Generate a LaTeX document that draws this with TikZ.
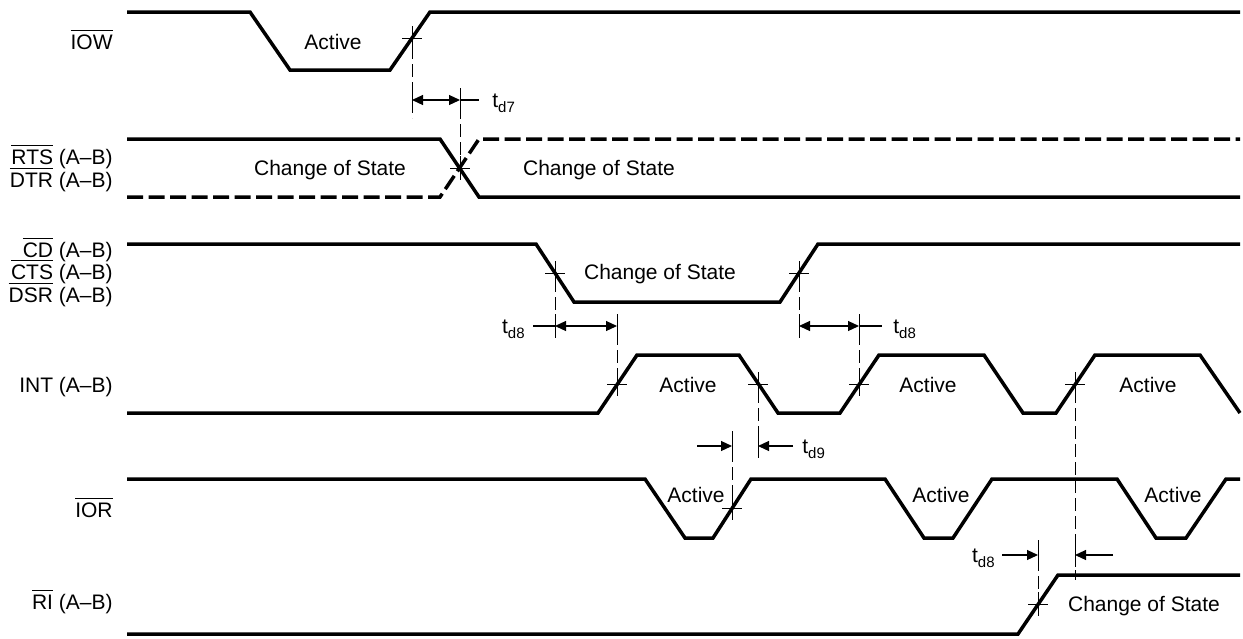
\documentclass[tikz,border=0pt]{standalone}
\usepackage{fontspec}
\setmainfont{Liberation Sans}
\usetikzlibrary{arrows.meta}
\newcommand\ovl[1]{\leavevmode\vbox{\hrule height 0.5pt\kern 2pt\hbox{#1}}}
\newcommand\tsub[1]{t\raisebox{-2.8pt}{\fontsize{7.5}{8}\selectfont #1}}
\begin{document}
\begin{tikzpicture}[x=0.5pt,y=-0.5pt,
  sig/.style={line width=1.75pt, line join=miter},
  dsig/.style={sig, dash pattern=on 8pt off 2.75pt},
  fine/.style={line width=0.5pt},
  guide/.style={line width=0.5pt, dash pattern=on 6.5pt off 2.5pt},
  dim/.style={line width=0.6pt},
  tip/.style={-{Triangle[length=5.5pt,width=5pt]}},
  dtip/.style={{Triangle[length=5.5pt,width=5pt]}-{Triangle[length=5.5pt,width=5pt]}},
  txt/.style={font=\fontsize{10.5}{12}\selectfont, inner sep=0pt, anchor=base},
  lbl/.style={txt, anchor=base east},
  cross/.pic={\draw[fine] (-10,0)--(10,0) (0,-12)--(0,12);},
  vtick/.pic={\draw[fine] (0,-12)--(0,12);}
]
\useasboundingbox (0,0) rectangle (1243,638);

% ---- signal labels
\node[lbl] (lIOW) at (113,49.5) {\ovl{IOW}};
\node[lbl] (lRTS) at (113,164.5) {\ovl{RTS} (A--B)};
\node[lbl] (lDTR) at (113,187.5) {\ovl{DTR} (A--B)};
\node[lbl] (lCD)  at (113,257.5) {\ovl{CD} (A--B)};
\node[lbl] (lCTS) at (113,279.5) {\ovl{CTS} (A--B)};
\node[lbl] (lDSR) at (113,302.5) {\ovl{DSR} (A--B)};
\node[lbl] (lINT) at (113,392.5) {INT (A--B)};
\node[lbl] (lIOR) at (113,517.5) {\ovl{IOR}};
\node[lbl] (lRI)  at (113,609.5) {\ovl{RI} (A--B)};

% ---- waveforms
\draw[sig] (127,12)--(250,12)--(290,70)--(390,70)--(430,12)--(1240,12);
\draw[sig] (127,139)--(440,139)--(479,197)--(1240,197);
\draw[dsig] (127,197)--(440,197)--(479,139)--(1240,139);
\draw[sig] (127,244)--(536,244)--(574,302)--(780,302)--(818,244)--(1240,244);
\draw[sig] (127,413)--(598,413)--(637,355)--(739,355)--(778,413)--(840,413)--(879,355)
  --(984,355)--(1023,413)--(1056,413)--(1095,355)--(1200,355)--(1240,413);
\draw[sig] (127,479)--(645,479)--(685,538)--(713,538)--(751,479)--(885,479)--(924,538)
  --(953,538)--(992,479)--(1117,479)--(1156,538)--(1186,538)--(1226,479)--(1240,479);
\draw[sig] (127,634)--(1018,634)--(1058,575)--(1240,575);

% ---- state texts
\node[txt] (a1) at (333,49.5) {Active};
\node[txt] (c1) at (330,175.5) {Change of State};
\node[txt] (c2) at (599,175.5) {Change of State};
\node[txt] (c3) at (660,279.5) {Change of State};
\node[txt] (a2) at (688,392.5) {Active};
\node[txt] (a3) at (928,392.5) {Active};
\node[txt] (a4) at (1148,392.5) {Active};
\node[txt] (a5) at (696,502.5) {Active};
\node[txt] (a6) at (941,502.5) {Active};
\node[txt] (a7) at (1173,502.5) {Active};
\node[txt] (c4) at (1144,611.5) {Change of State};

% ---- t_d7
\draw[guide] (412,28)--(412,118);
\draw[guide] (460,88)--(460,178);
\pic at (412,38) {cross};
\pic at (460,168) {cross};
\pic at (412,100) {vtick};
\pic at (460,100) {vtick};
\draw[dim,dtip] (412,100)--(460,100);
\draw[dim] (460,100)--(479,100);
\node[txt, anchor=base west] (td7) at (492,107) {\tsub{d7}};

% ---- t_d8 (left)
\draw[guide] (555,261)--(555,338);
\draw[guide] (617,314)--(617,396);
\pic at (555,273) {cross};
\pic at (617,384) {cross};
\pic at (555,326) {vtick};
\pic at (617,326) {vtick};
\draw[dim,dtip] (555,326)--(617,326);
\draw[dim] (533,326)--(555,326);
\node[txt, anchor=base east] (td8a) at (525,333) {\tsub{d8}};

% ---- t_d8 (right)
\draw[guide] (799,261)--(799,338);
\draw[guide] (859,314)--(859,396);
\pic at (799,273) {cross};
\pic at (859,384) {cross};
\pic at (799,326) {vtick};
\pic at (859,326) {vtick};
\draw[dim,dtip] (799,326)--(859,326);
\draw[dim] (859,326)--(882,326);
\node[txt, anchor=base west] (td8b) at (893,333) {\tsub{d8}};

% ---- t_d9
\draw[guide] (758,372)--(758,460);
\draw[guide] (732,431)--(732,520);
\pic at (758,384) {cross};
\pic at (732,508) {cross};
\pic at (758,446) {vtick};
\pic at (732,446) {vtick};
\draw[dim,tip] (697,446)--(732,446);
\draw[dim,tip] (793,446)--(758,446);
\node[txt, anchor=base west] (td9) at (802,453) {\tsub{d9}};

% ---- t_d8 (bottom)
\draw[guide] (1038,540)--(1038,616);
\draw[guide] (1075,372)--(1075,580);
\pic at (1038,604) {cross};
\pic at (1075,384) {cross};
\pic at (1038,555) {vtick};
\pic at (1075,555) {vtick};
\draw[dim,tip] (1002,555)--(1038,555);
\draw[dim,tip] (1113,555)--(1075,555);
\node[txt, anchor=base east] (td8c) at (995,562) {\tsub{d8}};
\end{tikzpicture}
\end{document}
